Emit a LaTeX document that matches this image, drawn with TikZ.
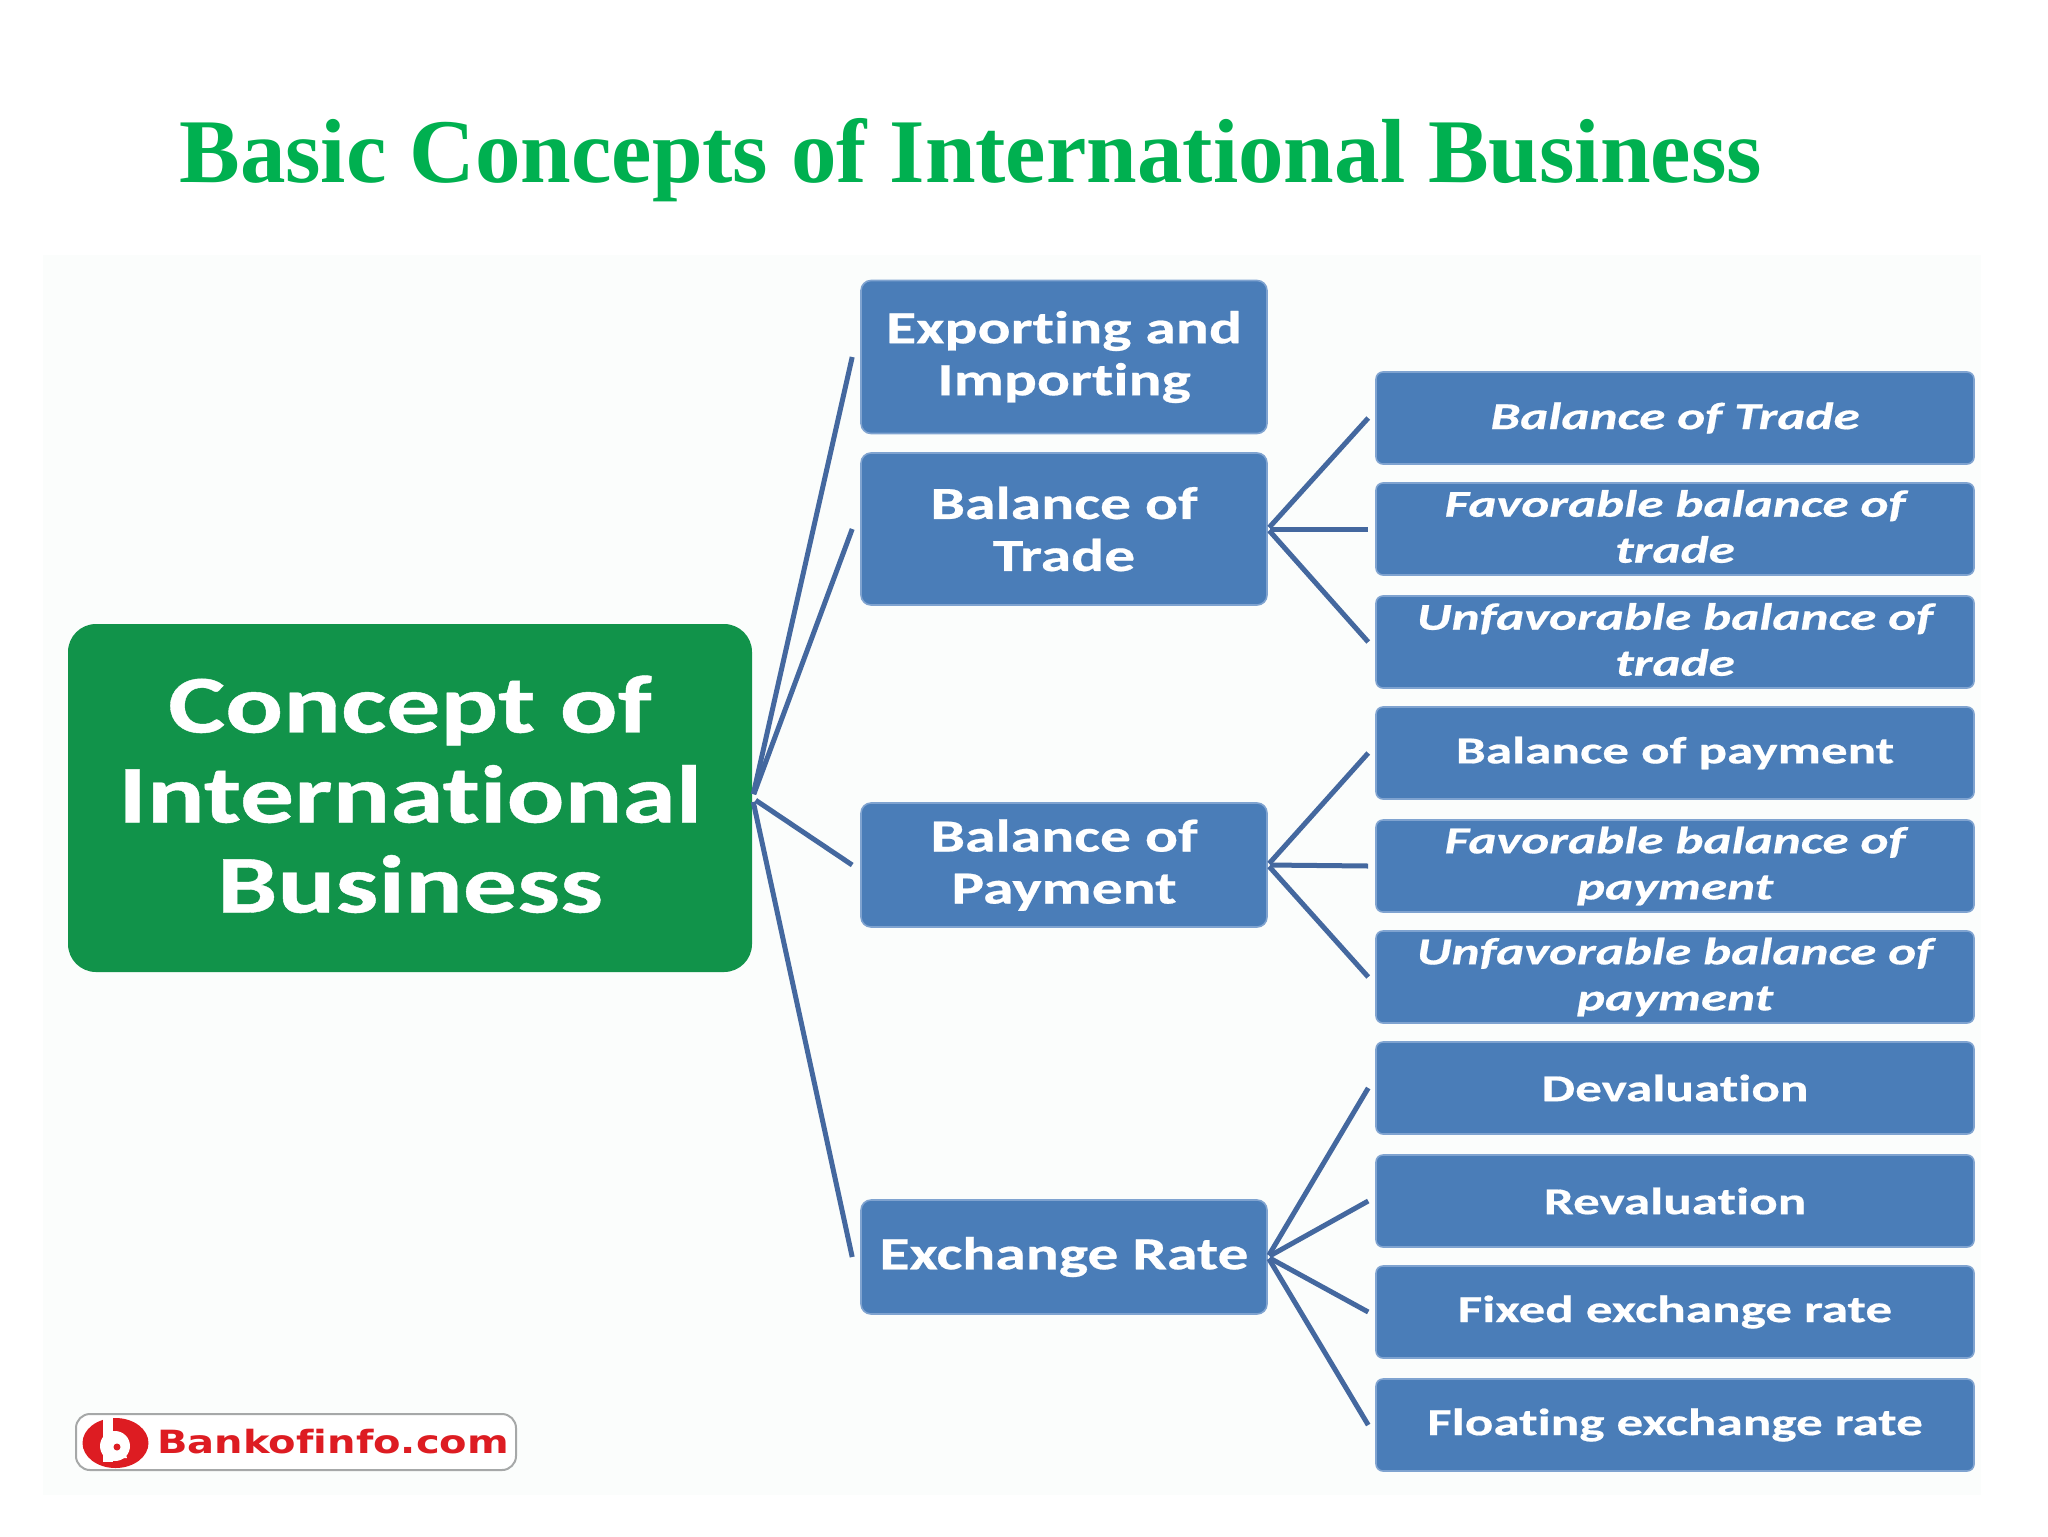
\documentclass[tikz,border=0pt]{standalone}
\usepackage{fontspec}
\setmainfont{Liberation Serif}
\newfontfamily\mainfont[FakeStretch=1.315,Ligatures=NoCommon,BoldFeatures={FakeBold=0.5}]{Carlito}
\newfontfamily\midfont[FakeStretch=1.34,Ligatures=NoCommon,BoldFeatures={FakeBold=0.5}]{Carlito}
\newfontfamily\leaffont[FakeStretch=1.40,Ligatures=NoCommon,BoldFeatures={FakeBold=0.5},BoldItalicFeatures={FakeBold=0.5}]{Carlito}
\newfontfamily\logofont[FakeStretch=1.25,Ligatures=NoCommon]{DejaVu Sans}
\definecolor{titlegreen}{HTML}{00B050}
\definecolor{panelbg}{HTML}{FBFDFC}
\definecolor{boxgreen}{HTML}{11934A}
\definecolor{boxblue}{HTML}{4A7DB8}
\definecolor{boxedge}{HTML}{7FA3D0}
\definecolor{linkblue}{HTML}{44689F}
\definecolor{logored}{HTML}{DD1C22}
\definecolor{logogrey}{HTML}{A6A8A8}
\tikzset{
  x=0.5pt,y=-0.5pt,
  basebox/.style={rectangle,rounded corners=5pt,fill=boxblue,draw=boxedge,line width=0.8pt,text=white,align=center,inner sep=0pt},
  mainbox/.style={rectangle,rounded corners=14pt,fill=boxgreen,text=white,align=center,inner sep=0pt,minimum width=342pt,minimum height=174pt,
    font=\mainfont\bfseries\fontsize{41}{45}\selectfont},
  midbox/.style={basebox,minimum width=203pt,font=\midfont\bfseries\fontsize{23}{26}\selectfont},
  leafbox/.style={basebox,rounded corners=3.5pt,minimum width=299pt,minimum height=46pt,font=\leaffont\bfseries\fontsize{19}{23}\selectfont},
  leafit/.style={leafbox,font=\leaffont\bfseries\itshape\fontsize{19}{23}\selectfont},
  link/.style={draw=linkblue,line width=2.5pt}
}
\begin{document}
\begin{tikzpicture}
\useasboundingbox (0,0) rectangle (2048,1536);
\fill[white] (0,0) rectangle (2048,1536);
\fill[panelbg] (43,255) rectangle (1981,1495);
\node[anchor=base west,text=titlegreen,font=\bfseries\fontsize{45.5}{50}\selectfont,inner sep=0pt] (title) at (179,182) {Basic Concepts of International Business};

\node[mainbox] (main) at (410,798) {Concept of\\International\\Business\\[-41pt]};

\node[midbox,minimum height=76.5pt] (m1) at (1064,357) {Exporting and\\Importing};
\node[midbox,minimum height=76pt] (m2) at (1064,529) {Balance of\\Trade};
\node[midbox,minimum height=62pt] (m3) at (1064,865) {Balance of\\Payment};
\node[midbox,minimum height=57pt] (m4) at (1064,1257) {Exchange Rate};

\node[leafit] (a1) at (1675,418) {Balance of Trade};
\node[leafit] (a2) at (1675,529) {Favorable balance of\\trade\\[-20.4pt]};
\node[leafit] (a3) at (1675,642) {Unfavorable balance of\\trade\\[-20.4pt]};
\node[leafbox] (b1) at (1675,753) {Balance of payment};
\node[leafit] (b2) at (1675,866) {Favorable balance of\\payment};
\node[leafit] (b3) at (1675,977) {Unfavorable balance of\\payment};
\node[leafbox] (c1) at (1675,1088) {Devaluation};
\node[leafbox] (c2) at (1675,1201) {Revaluation};
\node[leafbox] (c3) at (1675,1312) {Fixed exchange rate};
\node[leafbox] (c4) at (1675,1425) {Floating exchange rate};

\foreach \t in {m1,m2,m3,m4} \draw[link,shorten <=2pt] (main.east) -- ([xshift=-4pt]\t.west);
\foreach \t in {a1,a2,a3} \draw[link,shorten <=1pt] (m2.east) -- ([xshift=-3.5pt]\t.west);
\foreach \t in {b1,b2,b3} \draw[link,shorten <=1pt] (m3.east) -- ([xshift=-3.5pt]\t.west);
\foreach \t in {c1,c2,c3,c4} \draw[link,shorten <=1pt] (m4.east) -- ([xshift=-3.5pt]\t.west);

% logo
\node[rectangle,rounded corners=7pt,draw=logogrey,line width=1pt,fill=white,minimum width=220pt,minimum height=28pt,inner sep=0pt] (logo) at (296,1442) {};
\fill[logored] (115.5,1443) circle[x radius=33,y radius=25];
\fill[white] (103,1416) rectangle (113,1462);
\fill[white] (115,1446) circle[radius=15];
\fill[white] (103,1458) arc[start angle=180,end angle=360,x radius=12,y radius=8] -- cycle;
\fill[logored] (117,1447) circle[radius=3.5];
\node[anchor=west,text=logored,inner sep=0pt,font=\logofont\bfseries\fontsize{16}{20}\selectfont] (logotext) at (157,1442) {Bankofinfo.com};
\end{tikzpicture}
\end{document}
